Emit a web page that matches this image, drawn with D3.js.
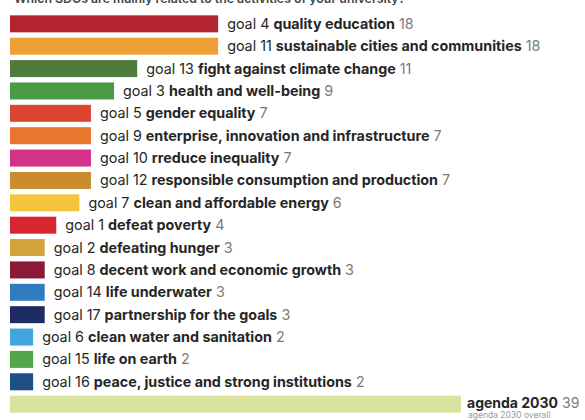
<!DOCTYPE html>
<html>
<head>
<meta charset="utf-8">
<script src="https://cdn.jsdelivr.net/npm/d3@7"></script>
<style>
  html, body { margin: 0; padding: 0; background: #fff; }
  svg { display: block; font-family: Inter, "Noto Sans", sans-serif; }
</style>
</head>
<body>
<svg id="chart" width="585" height="420"></svg>
<script>
// SDG answers, in display order
const codes = ["goal 4", "goal 11", "goal 13", "goal 3", "goal 5", "goal 9", "goal 10", "goal 12",
  "goal 7", "goal 1", "goal 2", "goal 8", "goal 14", "goal 17", "goal 6", "goal 15", "goal 16", "agenda 2030"];
const names = ["quality education", "sustainable cities and communities", "fight against climate change",
  "health and well-being", "gender equality", "enterprise, innovation and infrastructure",
  "rreduce inequality", "responsible consumption and production", "clean and affordable energy",
  "defeat poverty", "defeating hunger", "decent work and economic growth", "life underwater",
  "partnership for the goals", "clean water and sanitation", "life on earth",
  "peace, justice and strong institutions", ""];
const values = [18, 18, 11, 9, 7, 7, 7, 7, 6, 4, 3, 3, 3, 3, 2, 2, 2, 39];
const colors = ["#b22430", "#eea038", "#4f7b3b", "#4b9a46", "#dc4630", "#e8762f", "#d4318a", "#c98d30",
  "#f4c43e", "#d8262e", "#d3a43c", "#8a1b36", "#2f7dc0", "#1e2c63", "#41a6dd", "#55a64a", "#1f4e86", "#d9e39e"];
const title = "Which SDGs are mainly related to the activities of your university?";
const footnote = "agenda 2030 overall";

const svg = d3.select("#chart");
const rows = d3.range(values.length);

const x = d3.scaleLinear().domain([0, 39]).range([10, 461]);
const y = d3.scaleBand().domain(rows).range([14, 414]).paddingInner(0.24).paddingOuter(0.06);

// Title, mostly outside the top edge
svg.append("text")
  .attr("x", 14).attr("y", 3)
  .attr("font-size", 12.3).attr("font-weight", 600)
  .attr("fill", "#444")
  .text(title);

svg.append("g").selectAll("rect")
  .data(rows)
  .join("rect")
  .attr("x", x(0))
  .attr("y", i => y(i))
  .attr("width", i => x(values[i]) - x(0))
  .attr("height", y.bandwidth())
  .attr("fill", i => colors[i]);

const labels = svg.append("g").selectAll("text")
  .data(rows.slice(0, -1))
  .join("text")
  .attr("x", i => x(values[i]) + 9)
  .attr("y", i => y(i) + y.bandwidth() / 2 + 5)
  .attr("font-size", 14.3)
  .attr("fill", "#262626");
labels.append("tspan").text(i => codes[i] + " ");
labels.append("tspan").attr("font-weight", 700).text(i => names[i]);
labels.append("tspan").attr("fill", "#7a7a7a").text(i => " " + values[i]);

// Overall row
const last = values.length - 1;
const lx = x(values[last]) + 6;
const agenda = svg.append("text")
  .attr("x", lx)
  .attr("y", y(last) + y.bandwidth() / 2 + 4)
  .attr("font-size", 14)
  .attr("fill", "#262626");
agenda.append("tspan").attr("font-weight", 700).text(codes[last]);
agenda.append("tspan").attr("fill", "#7a7a7a").text(" " + values[last]);

svg.append("text")
  .attr("x", lx + 1)
  .attr("y", y(last) + y.bandwidth() + 5)
  .attr("font-size", 8.5)
  .attr("fill", "#9a9a9a")
  .text(footnote);
</script>
</body>
</html>
